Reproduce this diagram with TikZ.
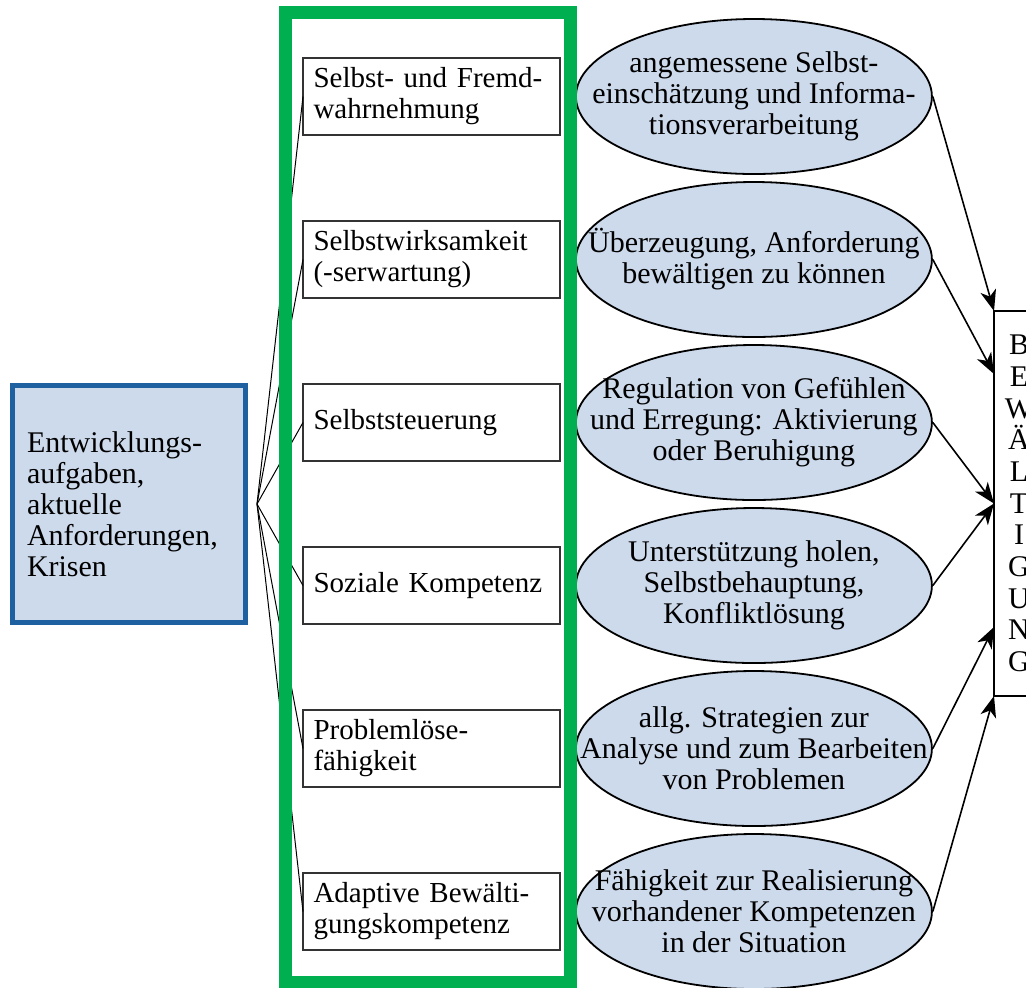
\documentclass[tikz,border=0pt]{standalone}
\usepackage{fontspec}
\setmainfont{Liberation Serif}
\usetikzlibrary{arrows.meta, positioning, calc, shapes.geometric}

\definecolor{boxfill}{RGB}{205,218,236}
\definecolor{taskblue}{RGB}{30,96,160}
\definecolor{framegreen}{RGB}{0,176,80}

\begin{document}
\begin{tikzpicture}[
  x=0.5pt, y=-0.5pt,
  font=\fontsize{15}{15.5}\selectfont,
  task/.style={rectangle, draw=taskblue, line width=2.5pt, fill=boxfill, minimum width=116.5pt, minimum height=118.5pt, text width=102pt, inner xsep=7.25pt, align=left},
  skill/.style={rectangle, draw=black!80, line width=0.7pt, outer sep=0pt, minimum height=38.5pt, text width=118pt, inner xsep=5.25pt, align=left, font=\fontsize{14.5}{15.5}\selectfont},
  goal/.style={ellipse, draw, line width=0.9pt, fill=boxfill, minimum width=178pt, minimum height=77.5pt, inner xsep=-30pt, inner ysep=0pt, align=center},
  target/.style={rectangle, draw, line width=0.7pt, outer sep=0pt, minimum width=25pt, minimum height=192.5pt, align=center, font=\fontsize{15}{15.85}\selectfont},
  arrow/.style={-{Stealth[length=10.5pt, width=8pt, inset=3pt]}, line width=0.8pt},
  fan/.style={line width=0.5pt},
  frame/.style={draw=framegreen, line width=6.5pt}
]
\useasboundingbox (0,0) rectangle (1026,987);

\node[task] (task) at (129,504) {Entwicklungs-\\aufgaben,\\aktuelle\\Anforderungen,\\Krisen};

\node[skill] (b1) at (431.5,96.5) {Selbst- und Fremd-\\wahrnehmung};
\node[skill, below=43pt of b1] (b2) {Selbstwirksamkeit\\(-serwartung)};
\node[skill, below=43pt of b2] (b3) {Selbststeuerung};
\node[skill, below=43pt of b3] (b4) {Soziale Kompetenz};
\node[skill, below=43pt of b4] (b5) {Problemlöse-\\fähigkeit};
\node[skill, below=43pt of b5] (b6) {Adaptive Bewälti-\\gungskompetenz};

\node[goal, right=7.5pt of b1] (g1) {angemessene Selbst-\\einschätzung und Informa-\\tionsverarbeitung};
\node[goal, right=7.5pt of b2] (g2) {Überzeugung, Anforderung\\bewältigen zu können};
\node[goal, right=7.5pt of b3] (g3) {Regulation von Gefühlen\\und Erregung: Aktivierung\\oder Beruhigung};
\node[goal, right=7.5pt of b4] (g4) {Unterstützung holen,\\Selbstbehauptung,\\Konfliktlösung};
\node[goal, right=7.5pt of b5] (g5) {allg. Strategien zur\\Analyse und zum Bearbeiten\\von Problemen};
\node[goal, right=7.5pt of b6] (g6) {Fähigkeit zur Realisierung\\vorhandener Kompetenzen\\in der Situation};

\node[target] (bew) at (1019,503.5) {B\\E\\W\\Ä\\L\\T\\I\\G\\U\\N\\G};

% fan from the tasks to the resources
\coordinate[right=4.5pt of task] (fan);
\foreach \i in {1,...,6}
  \draw[fan] (fan) -- (b\i.west);

\draw[frame] (285,12.5) rectangle (570.5,982);

\draw[arrow] (g1.east) -- (bew.north west);
\draw[arrow] (g2.east) -- ($(bew.north west)+(0,63)$);
\draw[arrow] (g3.east) -- (bew.west);
\draw[arrow] (g4.east) -- (bew.west);
\draw[arrow] (g5.east) -- ($(bew.south west)+(0,-69)$);
\draw[arrow] (g6.east) -- (bew.south west);
\end{tikzpicture}
\end{document}
